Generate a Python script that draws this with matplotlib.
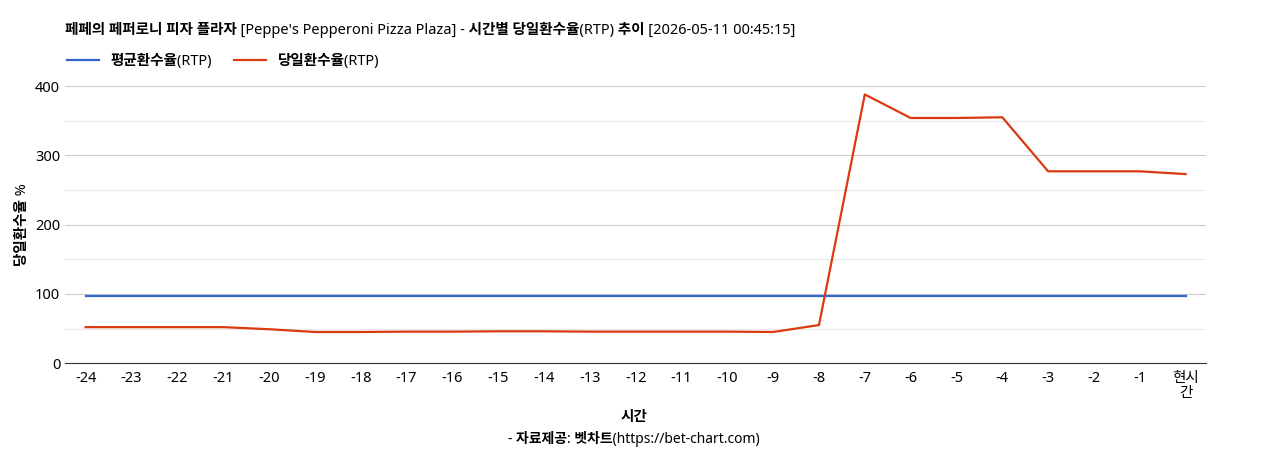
import matplotlib
matplotlib.use("Agg")
import matplotlib.pyplot as plt

plt.rcParams['font.family'] = ['Noto Sans', 'Noto Sans CJK KR', 'DejaVu Sans']

labels = [str(i) for i in range(-24, 0)] + ['현시\n간']
avg_rtp = [97] * 25
day_rtp = [52, 52, 52, 52, 49, 45, 45, 45.5, 45.5, 46, 46, 45.5, 45.5, 45.5, 45.5, 45, 55,
           388, 354, 354, 355, 277, 277, 277, 273]

fig = plt.figure(figsize=(12.68, 4.5), dpi=100)
ax = fig.add_axes([0.0513, 0.193, 0.9, 0.6156])
x = list(range(len(labels)))
ax.plot(x, avg_rtp, color='#3366cc', lw=1.6, label='평균환수율(RTP)')
ax.plot(x, day_rtp, color='#dc3912', lw=1.6, label='당일환수율(RTP)')
ax.set_xlim(-0.45, 24.45)
ax.set_ylim(0, 400)
ax.set_yticks([0, 100, 200, 300, 400])
ax.set_yticks([50, 150, 250, 350], minor=True)
ax.grid(axis='y', which='major', color='#cccccc', lw=0.8)
ax.grid(axis='y', which='minor', color='#ebebeb', lw=0.8)
ax.tick_params(axis='y', which='both', length=0, labelsize=10.5)
ax.tick_params(axis='x', length=0, labelsize=10.5, pad=6)
ax.set_xticks(x)
ax.set_xticklabels(labels, linespacing=1.0)
for s in ['top', 'right', 'left']:
    ax.spines[s].set_visible(False)
ax.spines['bottom'].set_color('#333333')
ax.set_axisbelow(True)
ax.set_ylabel('당일환수율 %', fontsize=10.5, fontweight='bold')
fig.text(0.5, 0.065, '시간', fontsize=10.5, fontweight='bold', ha='center')
fig.text(0.0513, 0.925, '페페의 페퍼로니 피자 플라자 [Peppe\'s Pepperoni Pizza Plaza] - 시간별 당일환수율(RTP) 추이 [2026-05-11 00:45:15]',
         fontsize=10.5, fontweight='bold')
fig.text(0.5, 0.015, '- 자료제공: 벳차트(https://bet-chart.com)', fontsize=10, fontweight='bold', ha='center')
ax.legend(loc='lower left', bbox_to_anchor=(-0.006, 1.03), ncol=2, frameon=False,
          prop={'weight': 'bold', 'size': 10.5}, handlelength=2.2, columnspacing=1.5, borderaxespad=0.2)
fig.savefig('out.png')
